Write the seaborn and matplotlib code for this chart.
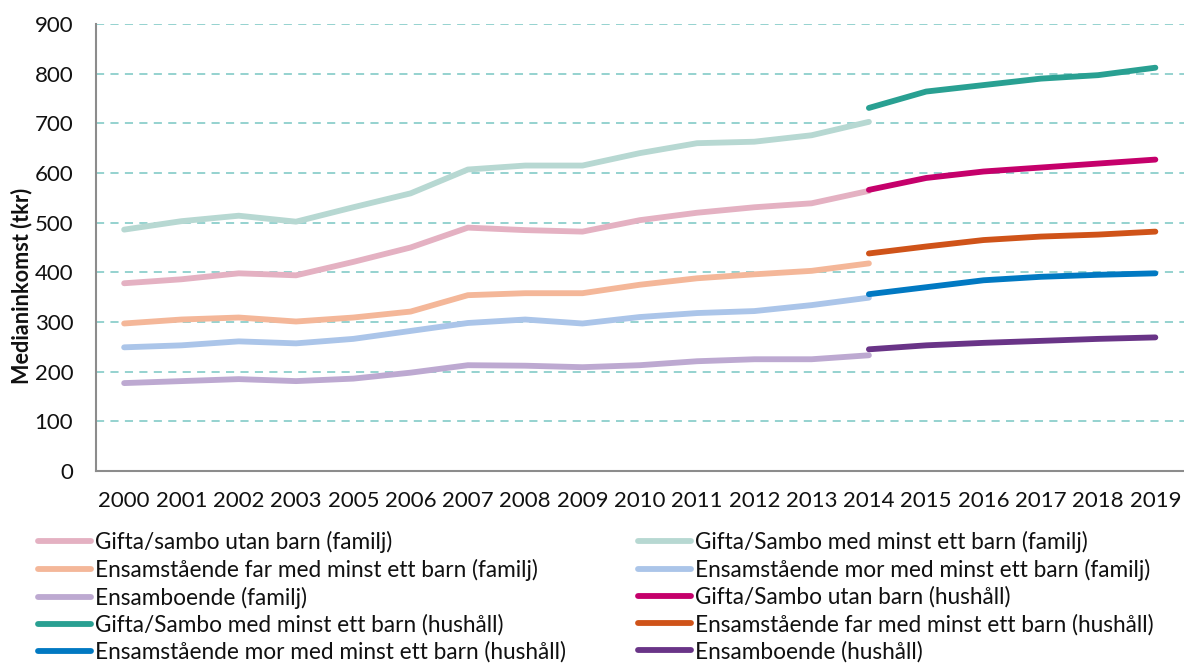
import matplotlib
matplotlib.use("Agg")
import matplotlib.pyplot as plt
import seaborn as sns
import pandas as pd
import numpy as np
from matplotlib.lines import Line2D

years = ["2000", "2001", "2002", "2003", "2005", "2006", "2007", "2008", "2009",
         "2010", "2011", "2012", "2013", "2014", "2015", "2016", "2017", "2018", "2019"]
years_familj = years[:14]
years_hushall = years[13:]

gifta_utan_familj = [378, 386, 398, 394, 421, 450, 490, 485, 482, 505, 520, 531, 539, 564]
gifta_med_familj = [486, 503, 514, 502, 531, 559, 607, 615, 615, 640, 660, 663, 676, 703]
far_familj = [297, 305, 309, 301, 309, 321, 354, 358, 358, 375, 388, 396, 403, 418]
mor_familj = [249, 253, 261, 257, 266, 282, 298, 305, 297, 310, 318, 322, 334, 349]
ensam_familj = [177, 181, 185, 181, 186, 198, 213, 212, 209, 213, 221, 225, 225, 233]

gifta_utan_hushall = [566, 590, 603, 611, 619, 627]
gifta_med_hushall = [731, 764, 777, 790, 797, 812]
far_hushall = [438, 452, 465, 472, 476, 482]
mor_hushall = [356, 370, 384, 391, 395, 398]
ensam_hushall = [245, 253, 258, 262, 266, 269]

series = [
    ("Gifta/sambo utan barn (familj)", years_familj, gifta_utan_familj, "#E4B1C2"),
    ("Gifta/Sambo med minst ett barn (familj)", years_familj, gifta_med_familj, "#B7D8D2"),
    ("Ensamstående far med minst ett barn (familj)", years_familj, far_familj, "#F4B799"),
    ("Ensamstående mor med minst ett barn (familj)", years_familj, mor_familj, "#ABC5E9"),
    ("Ensamboende (familj)", years_familj, ensam_familj, "#BDA9D1"),
    ("Gifta/Sambo utan barn (hushåll)", years_hushall, gifta_utan_hushall, "#C5006B"),
    ("Gifta/Sambo med minst ett barn (hushåll)", years_hushall, gifta_med_hushall, "#29A092"),
    ("Ensamstående far med minst ett barn (hushåll)", years_hushall, far_hushall, "#CF5319"),
    ("Ensamstående mor med minst ett barn (hushåll)", years_hushall, mor_hushall, "#0179C2"),
    ("Ensamboende (hushåll)", years_hushall, ensam_hushall, "#693487"),
]

rows = []
for name, yrs, vals, col in series:
    for yv, v in zip(yrs, vals):
        rows.append({"serie": name, "year": yv, "pos": years.index(yv), "value": v})
df = pd.DataFrame(rows)
palette = {name: col for name, _, _, col in series}
hue_order = [s[0] for s in series]

sns.set_theme(style="white")
plt.rcParams["font.family"] = ["Lato", "DejaVu Sans"]

fig = plt.figure(figsize=(11.84, 6.65), dpi=100)
ax = fig.add_axes([95.5 / 1184, 1 - 471 / 665, 1 - 95.5 / 1184, (471 - 24) / 665])

sns.lineplot(data=df, x="pos", y="value", hue="serie", hue_order=hue_order,
             palette=palette, linewidth=4.2, ax=ax, legend=False,
             solid_capstyle="round", sort=True)

ax.set_xlim(-0.5, len(years) - 0.5)
ax.set_ylim(0, 900)
ax.set_yticks(np.arange(0, 901, 100))
ax.set_xticks(np.arange(len(years)))
ax.set_xticklabels(years)
ax.set_xticks(np.arange(-0.5, len(years), 1.0), minor=True)
ax.tick_params(axis="x", which="major", length=0, pad=14.5, labelsize=16, colors="#111111")
ax.tick_params(axis="x", which="minor", length=6, width=1.3, color="#8c8c8c", direction="out")
ax.tick_params(axis="y", which="major", length=6, width=1.3, color="#8c8c8c", direction="out",
               pad=10, labelsize=16, labelcolor="#111111")

for y in range(100, 901, 100):
    ax.axhline(y, color="#8CCFCC", linewidth=1.3, linestyle=(0, (4.5, 3.5)), zorder=0)

for side in ["top", "right"]:
    ax.spines[side].set_visible(False)
for side in ["left", "bottom"]:
    ax.spines[side].set_color("#8c8c8c")
    ax.spines[side].set_linewidth(1.5)

ax.set_xlabel("")
ax.set_ylabel("Medianinkomst (tkr)", fontsize=15.6, fontweight="bold", color="#111111")
ax.yaxis.set_label_coords(-0.058, 0.415)

handles = [Line2D([0], [0], color=col, linewidth=4.2, solid_capstyle="round") for _, _, _, col in series]
labels = [s[0] for s in series]
left_idx = [0, 2, 4, 6, 8]
right_idx = [1, 3, 5, 7, 9]
for idx, xpos in [(left_idx, 38 / 1184), (right_idx, 638 / 1184)]:
    leg = fig.legend([handles[i] for i in idx], [labels[i] for i in idx],
                     loc="upper left", bbox_to_anchor=(xpos, 1 - 531 / 665),
                     frameon=False, fontsize=16.3, handlelength=2.35, handletextpad=0.18,
                     labelspacing=0.25, borderpad=0, borderaxespad=0)
    for t in leg.get_texts():
        t.set_color("#111111")

fig.savefig("out.png", dpi=100)
